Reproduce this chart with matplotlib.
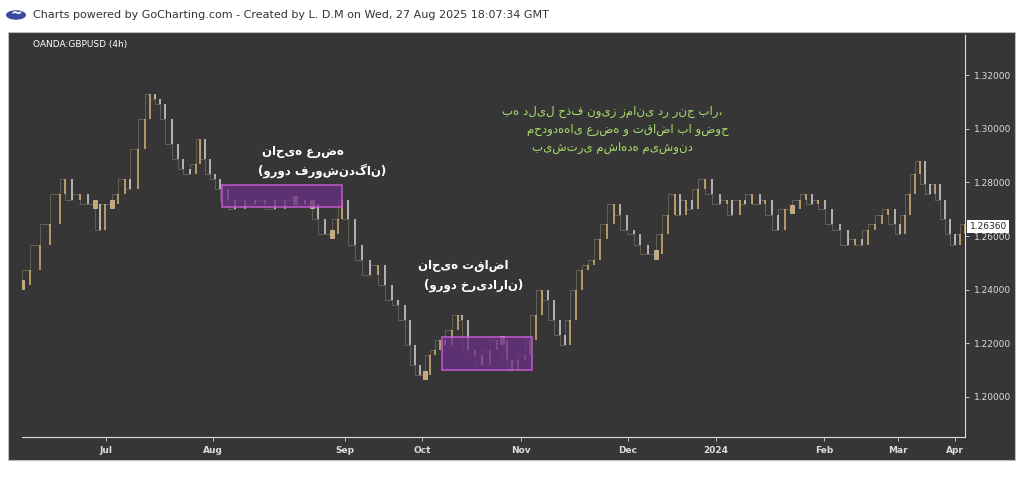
import matplotlib
matplotlib.use("Agg")
import matplotlib.pyplot as plt
from matplotlib.patches import Rectangle, Circle

# ---- data ----
bar_x = [22,30,40,50,60,65,72,80,88,95,100,105,112,118,125,130,138,145,150,155,160,165,172,178,183,190,196,200,205,210,215,220,228,235,245,255,265,275,285,295,305,312,318,325,332,338,342,348,355,362,370,378,385,392,398,405,410,415,420,425,430,435,440,445,452,458,462,468,475,482,490,497,502,507,512,518,525,530,536,542,548,554,560,565,570,576,582,588,594,600,607,614,620,627,634,640,648,656,662,668,675,680,686,692,698,705,712,720,727,732,740,745,752,760,765,772,778,785,792,800,806,812,818,825,832,840,848,855,862,868,875,882,888,895,900,905,910,915,920,925,930,935,940,945,950,955,960,965]
bar_y_px = [285,270,245,225,195,180,200,195,205,205,230,205,205,195,180,190,150,120,95,100,105,120,145,160,170,175,165,140,160,175,180,190,200,210,200,205,200,210,200,200,205,205,220,235,235,220,200,220,245,260,275,265,285,300,305,320,345,365,375,375,355,350,340,345,330,315,320,350,355,365,350,340,340,360,370,360,355,340,315,290,300,320,335,345,320,290,270,265,260,240,225,205,215,230,235,245,255,255,235,215,195,215,200,210,190,180,195,205,200,215,200,205,195,205,200,215,230,210,210,200,195,205,200,210,225,230,245,240,245,230,225,215,210,225,235,215,195,175,162,185,195,185,200,220,235,245,235,225]
closes = [round(1.32 - (v - 76) * 0.02 / 53.5, 4) for v in bar_y_px]
last_price = 1.26360
month_labels = ["Jul", "Aug", "Sep", "Oct", "Nov", "Dec", "2024", "Feb", "Mar", "Apr"]
month_pos = [106, 213, 345, 422, 521, 628, 716, 824, 898, 955]
y_ticks = [1.20, 1.22, 1.24, 1.26, 1.28, 1.30, 1.32]
supply_zone = (222, 342, 1.2710, 1.2789)
demand_zone = (442, 532, 1.2100, 1.2224)

W, H = 1024, 486
fig = plt.figure(figsize=(W/100, H/100), dpi=100, facecolor='white')
def fx(px): return px / W
def fy(py): return 1 - py / H
fig.patches.append(Rectangle((fx(8), fy(460)), fx(1007), (460-32)/H, transform=fig.transFigure,
                             facecolor='#363636', edgecolor='#bbbbbb', lw=0.8, zorder=-5))
fig.patches.append(Circle((fx(16), fy(15)), 10/W, transform=fig.transFigure, facecolor='#3b4aa0', zorder=1))
fig.text(fx(16), fy(14), '~', color='white', fontsize=10, fontweight='bold', ha='center', va='center')
fig.text(fx(33), fy(15), 'Charts powered by GoCharting.com - Created by L. D.M on Wed, 27 Aug 2025 18:07:34 GMT',
         fontsize=8, color='#333333', va='center')

ax = fig.add_axes([fx(22), fy(437), fx(965-22), (437-35)/H], zorder=1)
ax.set_facecolor('#363636')
ax.set_xlim(22, 965)
ax.set_ylim(1.185, 1.335)

prev = closes[0]
for x, c in zip(bar_x, closes):
    col = '#d8b575' if c >= prev else '#d6d6d6'
    lo, hi = min(prev, c), max(prev, c)
    if hi - lo < 0.001:
        lo, hi = c - 0.0015, c + 0.0015
        ax.add_patch(Rectangle((x - 2, lo), 4, hi - lo, facecolor='#c8a870', edgecolor='#f0e0c0', lw=0.4, zorder=3))
    else:
        ax.vlines(x, lo, hi, color=col, lw=1.1, zorder=3)
    prev = c
ax.step(bar_x, closes, where='pre', color='#bfae8c', lw=0.4, alpha=0.6, zorder=2)

for (x0, x1, y0, y1) in (supply_zone, demand_zone):
    ax.add_patch(Rectangle((x0, y0), x1 - x0, y1 - y0, facecolor='#6a2f86', alpha=0.75,
                           edgecolor='#d060e0', lw=1.3, zorder=4))

ax.yaxis.tick_right()
ax.set_yticks(y_ticks)
ax.set_yticklabels([f'{v:.5f}' for v in y_ticks], fontsize=6.5, color='#dddddd')
ax.set_xticks(month_pos)
ax.set_xticklabels(month_labels, fontsize=6.5, color='#dddddd', fontweight='bold')
ax.tick_params(colors='#dddddd', length=3, width=0.6)
for s in ['top', 'left']:
    ax.spines[s].set_visible(False)
ax.spines['bottom'].set_color('#dddddd')
ax.spines['right'].set_color('#dddddd')
ax.text(1.005, last_price, f'{last_price:.5f}', transform=ax.get_yaxis_transform(), fontsize=6.5,
        color='#222222', va='center', ha='left', bbox=dict(boxstyle='square,pad=0.25', fc='white', ec='none'))

fig.text(fx(33), fy(45), 'OANDA:GBPUSD (4h)', fontsize=6.5, color='white', va='center')
wt = dict(color='white', fontsize=8.5, family=['DejaVu Sans'], fontweight='bold', ha='center', va='center', zorder=5)
fig.text(fx(303), fy(151), 'ناحیه عرضه', **wt)
fig.text(fx(322), fy(171), '(ورود فروشندگان)', **wt)
fig.text(fx(463), fy(266), 'ناحیه تقاضا', **wt)
fig.text(fx(474), fy(285), '(ورود خریداران)', **wt)
gt = dict(color='#a8dc6c', fontsize=8.5, family=['DejaVu Sans'], ha='center', va='center', zorder=5)
fig.text(fx(612), fy(111), 'به دلیل حذف نویز زمانی در رنج بار،', **gt)
fig.text(fx(628), fy(130), 'محدوده\u200cهای عرضه و تقاضا با وضوح', **gt)
fig.text(fx(612), fy(147), 'بیشتری مشاهده می\u200cشوند', **gt)

fig.savefig('out.png', dpi=100, facecolor='white')
